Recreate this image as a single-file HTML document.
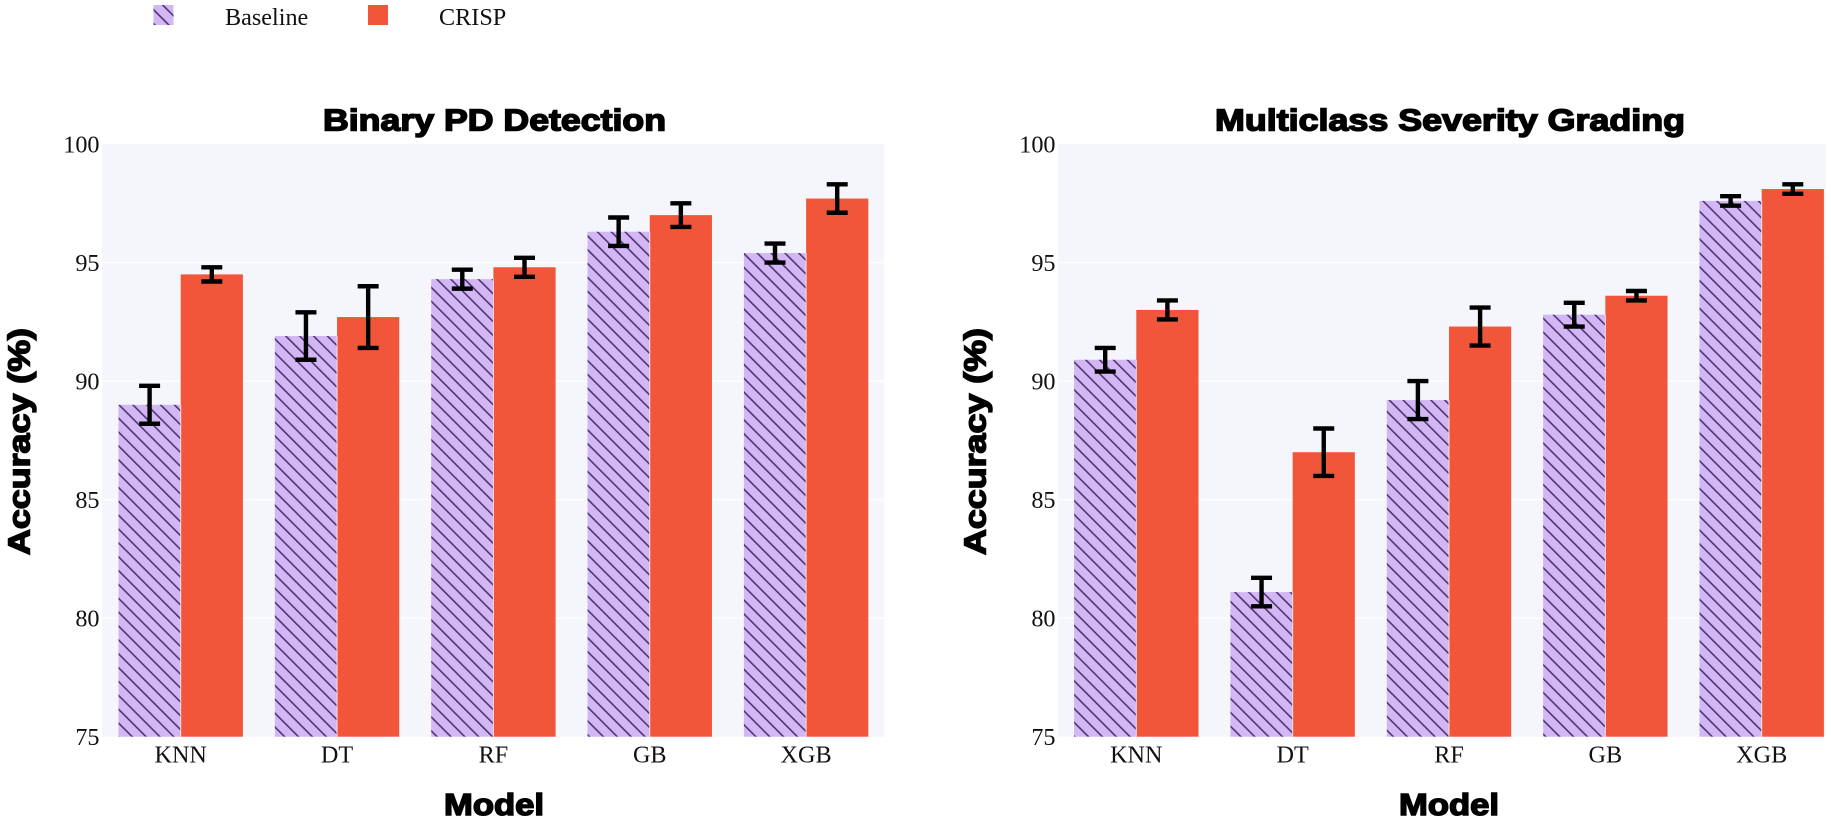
<!DOCTYPE html>
<html lang="en">
<head>
<meta charset="utf-8">
<title>Accuracy comparison: Baseline vs CRISP</title>
<style>
html,body{margin:0;padding:0;background:#fff;width:1831px;height:822px;overflow:hidden}
svg{display:block}
.tick{font-family:"Liberation Serif",serif;font-size:24.2px;fill:#111}
.heavy{font-family:"Liberation Sans",sans-serif;font-weight:700;fill:#000;stroke:#000;stroke-width:1.5px}
</style>
</head>
<body>
<svg id="chart" xmlns="http://www.w3.org/2000/svg" width="1831" height="822" viewBox="0 0 1831 822">
  <defs>
    <pattern id="hatch" patternUnits="userSpaceOnUse" width="9.8" height="9.8" patternTransform="translate(118 3) rotate(-45)">
      <rect width="9.8" height="9.8" fill="#d3b6f4"/>
      <rect x="0" width="1.6" height="9.8" fill="#4d3571"/>
    </pattern>
    <clipPath id="clip-left"><rect x="102" y="144" width="782" height="593"/></clipPath>
    <clipPath id="clip-right"><rect x="1058" y="144" width="768" height="593"/></clipPath>
  </defs>
  <rect width="1831" height="822" fill="#fff"/>

  <g>
    <g>
      <rect x="153.5" y="5" width="20" height="20" fill="url(#hatch)"/>
      <text x="225" y="25" class="tick">Baseline</text>
    </g>
    <g>
      <rect x="368" y="5" width="20" height="20" fill="#f1563a"/>
      <text x="439" y="25" class="tick">CRISP</text>
    </g>
  </g>

  <g id="panel-left">
    <text x="323" y="130.5" class="heavy" font-size="31" textLength="343" lengthAdjust="spacingAndGlyphs">Binary PD Detection</text>
    <text x="444" y="815" class="heavy" font-size="31" textLength="100" lengthAdjust="spacingAndGlyphs">Model</text>
    <text transform="translate(29.5 555) rotate(-90)" class="heavy" font-size="31" textLength="227" lengthAdjust="spacingAndGlyphs">Accuracy (%)</text>
  </g>

  <g id="panel-right">
    <text x="1215" y="130.5" class="heavy" font-size="31" textLength="470" lengthAdjust="spacingAndGlyphs">Multiclass Severity Grading</text>
    <text x="1399" y="815" class="heavy" font-size="31" textLength="100" lengthAdjust="spacingAndGlyphs">Model</text>
    <text transform="translate(985.5 555) rotate(-90)" class="heavy" font-size="31" textLength="227" lengthAdjust="spacingAndGlyphs">Accuracy (%)</text>
  </g>
</svg>
<script>
const categories = ["KNN", "DT", "RF", "GB", "XGB"];
const yTicks = [75, 80, 85, 90, 95, 100];
const binaryBaseline = [89.0, 91.9, 94.3, 96.3, 95.4];
const binaryBaselineErr = [0.8, 1.0, 0.4, 0.6, 0.4];
const binaryCrisp = [94.5, 92.7, 94.8, 97.0, 97.7];
const binaryCrispErr = [0.3, 1.3, 0.4, 0.5, 0.6];
const multiBaseline = [90.9, 81.1, 89.2, 92.8, 97.6];
const multiBaselineErr = [0.5, 0.6, 0.8, 0.5, 0.2];
const multiCrisp = [93.0, 87.0, 92.3, 93.6, 98.1];
const multiCrispErr = [0.4, 1.0, 0.8, 0.2, 0.2];

const NS = "http://www.w3.org/2000/svg";
const PLOT_TOP = 144;
const PLOT_BOTTOM = 736.7;
const BAND = 156.35;
const BAR_W = 62.2;
const Y_MIN = 75;
const Y_MAX = 100;

function yScale(v) {
  return PLOT_BOTTOM - (v - Y_MIN) / (Y_MAX - Y_MIN) * (PLOT_BOTTOM - PLOT_TOP);
}

function make(tag, attrs, parent) {
  const el = document.createElementNS(NS, tag);
  for (const k in attrs) el.setAttribute(k, attrs[k]);
  parent.appendChild(el);
  return el;
}

function drawSeries(parent, clipId, xCenter, values, errors, fill, side, seriesName) {
  values.forEach(function (v, i) {
    const cx = xCenter(i);
    const left = side < 0 ? cx - BAR_W : cx;
    const top = yScale(v);
    const bar = make("rect", {x: left, y: top, width: BAR_W, height: PLOT_BOTTOM - top, fill: fill, "clip-path": "url(#" + clipId + ")"}, parent);
    
    
  });
  values.forEach(function (v, i) {
    const ex = xCenter(i) + side * BAR_W / 2;
    const hi = yScale(v + errors[i]);
    const lo = yScale(v - errors[i]);
    const eb = make("path", {
      d: "M" + (ex - 10.5) + " " + hi + "H" + (ex + 10.5) + "M" + ex + " " + hi + "V" + lo + "M" + (ex - 10.5) + " " + lo + "H" + (ex + 10.5),
      fill: "none", stroke: "#000", "stroke-width": 4.4
    }, parent);
    
    
  });
}

function drawPanel(groupId, plotLeft, plotRight, firstCenter, clipId, baseline, baselineErr, crisp, crispErr, key) {
  const svg = document.getElementById(groupId);
  const xCenter = function (i) { return firstCenter + i * BAND; };

  const bg = make("rect", {x: plotLeft, y: PLOT_TOP, width: plotRight - plotLeft, height: PLOT_BOTTOM - PLOT_TOP, fill: "#f5f6fb"}, svg);
  
  

  yTicks.forEach(function (t) {
    const y = yScale(t);
    if (t !== Y_MIN && t !== Y_MAX) {
      const grid = make("line", {x1: plotLeft, x2: plotRight, y1: y, y2: y, stroke: "#fff", "stroke-width": 1.5, "stroke-opacity": 0.85}, svg);
      
      
    }
    const label = make("text", {x: plotLeft - 2.5, y: y + 8.5, "text-anchor": "end", "class": "tick"}, svg);
    label.textContent = String(t);
    
    
  });

  categories.forEach(function (c, i) {
    const label = make("text", {x: xCenter(i), y: 762.7, "text-anchor": "middle", "class": "tick"}, svg);
    label.textContent = c;
    
    
  });

  drawSeries(svg, clipId, xCenter, baseline, baselineErr, "url(#hatch)", -1, "baseline-" + key);
  drawSeries(svg, clipId, xCenter, crisp, crispErr, "#f1563a", 1, "crisp-" + key);

  categories.forEach(function (c, i) {
    const sep = make("line", {x1: xCenter(i), x2: xCenter(i), y1: yScale(Math.min(baseline[i], crisp[i])), y2: PLOT_BOTTOM, stroke: "#f6dfe6", "stroke-width": 1}, svg);
    
    
  });
}

drawPanel("panel-left", 102, 884, 180.7, "clip-left", binaryBaseline, binaryBaselineErr, binaryCrisp, binaryCrispErr, "binary");
drawPanel("panel-right", 1058, 1826, 1136.3, "clip-right", multiBaseline, multiBaselineErr, multiCrisp, multiCrispErr, "multiclass");

["panel-left", "panel-right"].forEach(function (id) {
  const g = document.getElementById(id);
  Array.from(g.querySelectorAll("text.heavy")).forEach(function (t) { g.appendChild(t); });
  Array.from(g.querySelectorAll("path")).forEach(function (p) { g.appendChild(p); });
});
</script>
</body>
</html>
